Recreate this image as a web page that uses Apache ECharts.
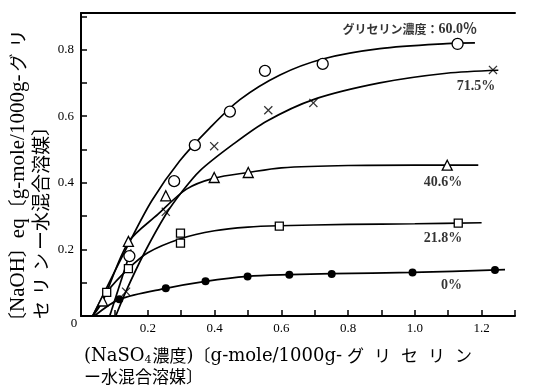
<!DOCTYPE html>
<html>
<head>
<meta charset="utf-8">
<script src="https://cdn.jsdelivr.net/npm/echarts@6/dist/echarts.min.js"></script>
<style>
html,body{margin:0;padding:0;background:#fff}
#c{width:536px;height:390px}
</style>
</head>
<body>
<div id="c"></div>
<script>
// Measured points [NaSO4, NaOH eq] for each glycerin concentration
const pts00  = [[0.115,0.050],[0.254,0.083],[0.373,0.104],[0.499,0.119],[0.624,0.124],[0.751,0.126],[0.993,0.131],[1.240,0.138]];
const pts218 = [[0.077,0.071],[0.142,0.142],[0.298,0.219],[0.298,0.249],[0.594,0.270],[1.130,0.279]];
const pts406 = [[0.065,0.045],[0.142,0.224],[0.254,0.361],[0.399,0.416],[0.501,0.431],[1.097,0.453]];
const pts600 = [[0.145,0.180],[0.279,0.405],[0.341,0.513],[0.446,0.614],[0.551,0.736],[0.724,0.757],[1.128,0.817]];
const pts715 = [[0.135,0.073],[0.254,0.313],[0.399,0.510],[0.561,0.618],[0.696,0.640],[1.234,0.739]];

// Drawn trend curves through each set
const curve00  = [[0.040,0],[0.115,0.050],[0.254,0.083],[0.373,0.104],[0.499,0.119],[0.624,0.124],[0.751,0.127],[0.993,0.131],[1.270,0.139]];
const curve218 = [[0.035,0],[0.077,0.071],[0.142,0.142],[0.200,0.190],[0.298,0.232],[0.400,0.256],[0.500,0.267],[0.594,0.271],[0.800,0.275],[1.000,0.277],[1.200,0.280]];
const curve406 = [[0.035,0],[0.065,0.045],[0.142,0.222],[0.230,0.305],[0.316,0.381],[0.399,0.414],[0.501,0.431],[0.600,0.445],[0.800,0.452],[1.000,0.453],[1.190,0.453]];
const curve600 = [[0.035,0],[0.142,0.215],[0.212,0.346],[0.296,0.466],[0.386,0.565],[0.476,0.650],[0.596,0.724],[0.724,0.772],[0.895,0.803],[1.095,0.818],[1.180,0.820]];
const curve600b = [[0.086,0],[0.150,0.200]];
const curve715 = [[0.104,0],[0.135,0.075],[0.190,0.190],[0.254,0.305],[0.300,0.370],[0.356,0.436],[0.456,0.516],[0.556,0.585],[0.696,0.650],[0.895,0.700],[1.095,0.729],[1.250,0.738]];

// Curve labels and where they sit
const curveLabels = ['{j|グリセリン濃度：}{n|60.0％}', '71.5%', '40.6%', '21.8%', '0%'];
const curveLabelAt = [[0.985,0.860],[1.183,0.690],[1.084,0.400],[1.084,0.233],[1.110,0.093]];

// Axis titles (the "4" after NaSO is set as a subscript)
const xTitle1a = '(NaSO';
const xTitle1sub = '4';
const xTitle1b = '濃度)〔g-mole/1000g-グリセリン';
const xTitle2 = 'ー水混合溶媒〕';
const yTitle1 = '〔NaOH〕eq〔g-mole/1000g-グリ';
const yTitle2 = 'セリンー水混合溶媒〕';

const SERIF = '"Liberation Serif","Noto Sans CJK JP",serif';
const WIDE_SERIF = '"DejaVu Serif","Noto Sans CJK JP",serif';
const CJK = '"Noto Sans CJK JP",sans-serif';

// Split a title into rich-text runs: Latin, kanji/brackets, spaced katakana
function richRuns(str, kanaSpaced) {
  let out = '', latin = '';
  const flush = () => { if (latin) { out += '{a|' + latin + '}'; latin = ''; } };
  for (const ch of str) {
    const c = ch.codePointAt(0);
    if (c >= 0x30A0 && c <= 0x30FF && ch !== 'ー') { flush(); out += '{' + (kanaSpaced ? 'kt' : 'k') + '|' + ch + '}'; }
    else if (c >= 0x2E80) { flush(); out += '{k|' + ch + '}'; }
    else latin += ch;
  }
  flush();
  return out;
}

const richStyles = (latinFont, latin, kanji, kana, pad) => ({
  a:{fontFamily:latinFont, fontSize:latin, color:'#000'},
  k:{fontFamily:CJK, fontSize:kanji, color:'#000'},
  kt:{fontFamily:CJK, fontSize:kana, color:'#000', padding:[0,pad,0,pad]},
  s:{fontFamily:latinFont, fontSize:11, color:'#000', verticalAlign:'bottom', padding:[9,1,0,0]}
});

const chart = echarts.init(document.getElementById('c'), null, {renderer:'canvas'});

const curveLine = (data) => ({
  type:'line', data, smooth:0.3, showSymbol:false, symbol:'none',
  lineStyle:{color:'#000', width:1.7}, silent:true, z:2
});
const markers = (data, symbol, size, fill) => ({
  type:'scatter', data, symbol, symbolSize:size, silent:true, z:3,
  itemStyle:{color:fill, borderColor:'#000', borderWidth:fill === '#000' ? 0 : 1.3, opacity:1}
});
const XMARK = 'path://M0,1L1,0L5,4L9,0L10,1L6,5L10,9L9,10L5,6L1,10L0,9L4,5Z';

const lbl = curveLabels.map((t,i)=>[curveLabelAt[i][0], curveLabelAt[i][1], t]);

chart.setOption({
  animation:false,
  backgroundColor:'#fff',
  grid:{left:81, right:21, top:13, bottom:74},
  xAxis:[{
    type:'value', min:0, max:1.3, interval:0.1,
    axisLine:{show:true, onZero:false, lineStyle:{color:'#000', width:2}},
    axisTick:{show:true, inside:true, length:6, lineStyle:{color:'#000', width:1.5}},
    splitLine:{show:false},
    axisLabel:{
      margin:6, color:'#000', fontSize:13, fontFamily:SERIF,
      formatter:v=>{const k=Math.round(v*10); return (k>0 && k%2===0 && k<=12) ? (k===10 ? '1.0' : (k/10).toFixed(1)) : '';}
    }
  },{
    type:'value', position:'top', min:0, max:1.3,
    axisLine:{show:true, onZero:false, lineStyle:{color:'#000', width:2}},
    axisTick:{show:false}, axisLabel:{show:false}, splitLine:{show:false}
  }],
  yAxis:{
    type:'value', min:0, max:0.91, interval:0.1,
    axisLine:{show:true, onZero:false, lineStyle:{color:'#000', width:2}},
    axisTick:{show:true, inside:true, length:6, lineStyle:{color:'#000', width:1.5}},
    splitLine:{show:false},
    axisLabel:{
      margin:7, color:'#000', fontSize:13, fontFamily:SERIF,
      formatter:v=>{const k=Math.round(v*10); return (k>0 && k%2===0 && k<=8) ? (k/10).toFixed(1) : '';}
    }
  },
  series:[
    curveLine(curve00), curveLine(curve218), curveLine(curve406),
    curveLine(curve600), curveLine(curve600b), curveLine(curve715),
    markers(pts00, 'circle', 8, '#000'),
    markers(pts218, 'rect', 8, '#fff'),
    markers(pts406, 'triangle', 10, '#fff'),
    markers(pts600, 'circle', 11, '#fff'),
    {type:'scatter', data:pts715, symbol:XMARK, symbolSize:9, silent:true, z:3, itemStyle:{color:'#000'}},
    {
      type:'scatter', data:lbl, symbolSize:1, silent:true, z:4,
      itemStyle:{color:'rgba(0,0,0,0)'},
      label:{
        show:true, position:'inside', color:'#000',
        formatter:p=>p.data[2],
        fontFamily:SERIF, fontSize:14, fontWeight:'bold',
        rich:{
          j:{fontFamily:CJK, fontSize:12, fontWeight:'bold', color:'#000'},
          n:{fontFamily:SERIF, fontSize:14, fontWeight:'bold', color:'#000'}
        }
      }
    }
  ],
  graphic:[
    {type:'text', x:74, y:324, silent:true,
     style:{text:'0', font:'13px '+SERIF, fill:'#000', textAlign:'center', textVerticalAlign:'middle'}},
    {type:'text', x:84, y:356, silent:true,
     style:{text:'{a|'+xTitle1a+'}{s|'+xTitle1sub+'}'+richRuns(xTitle1b, true), fill:'#000',
       textAlign:'left', textVerticalAlign:'middle', rich:richStyles(WIDE_SERIF, 18, 17, 17, 5)}},
    {type:'text', x:84, y:377, silent:true,
     style:{text:richRuns(xTitle2, false), fill:'#000', textAlign:'left', textVerticalAlign:'middle',
       rich:richStyles(WIDE_SERIF, 18, 17, 17, 0)}},
    {type:'text', x:18, y:331, rotation:Math.PI/2, silent:true,
     style:{text:richRuns(yTitle1, true), fill:'#000', textAlign:'left', textVerticalAlign:'middle',
       rich:richStyles(SERIF, 21, 19, 18, 3)}},
    {type:'text', x:41, y:322, rotation:Math.PI/2, silent:true,
     style:{text:richRuns(yTitle2, true), fill:'#000', textAlign:'left', textVerticalAlign:'middle',
       rich:richStyles(SERIF, 21, 19, 18, 3)}}
  ]
});
</script>
</body>
</html>
